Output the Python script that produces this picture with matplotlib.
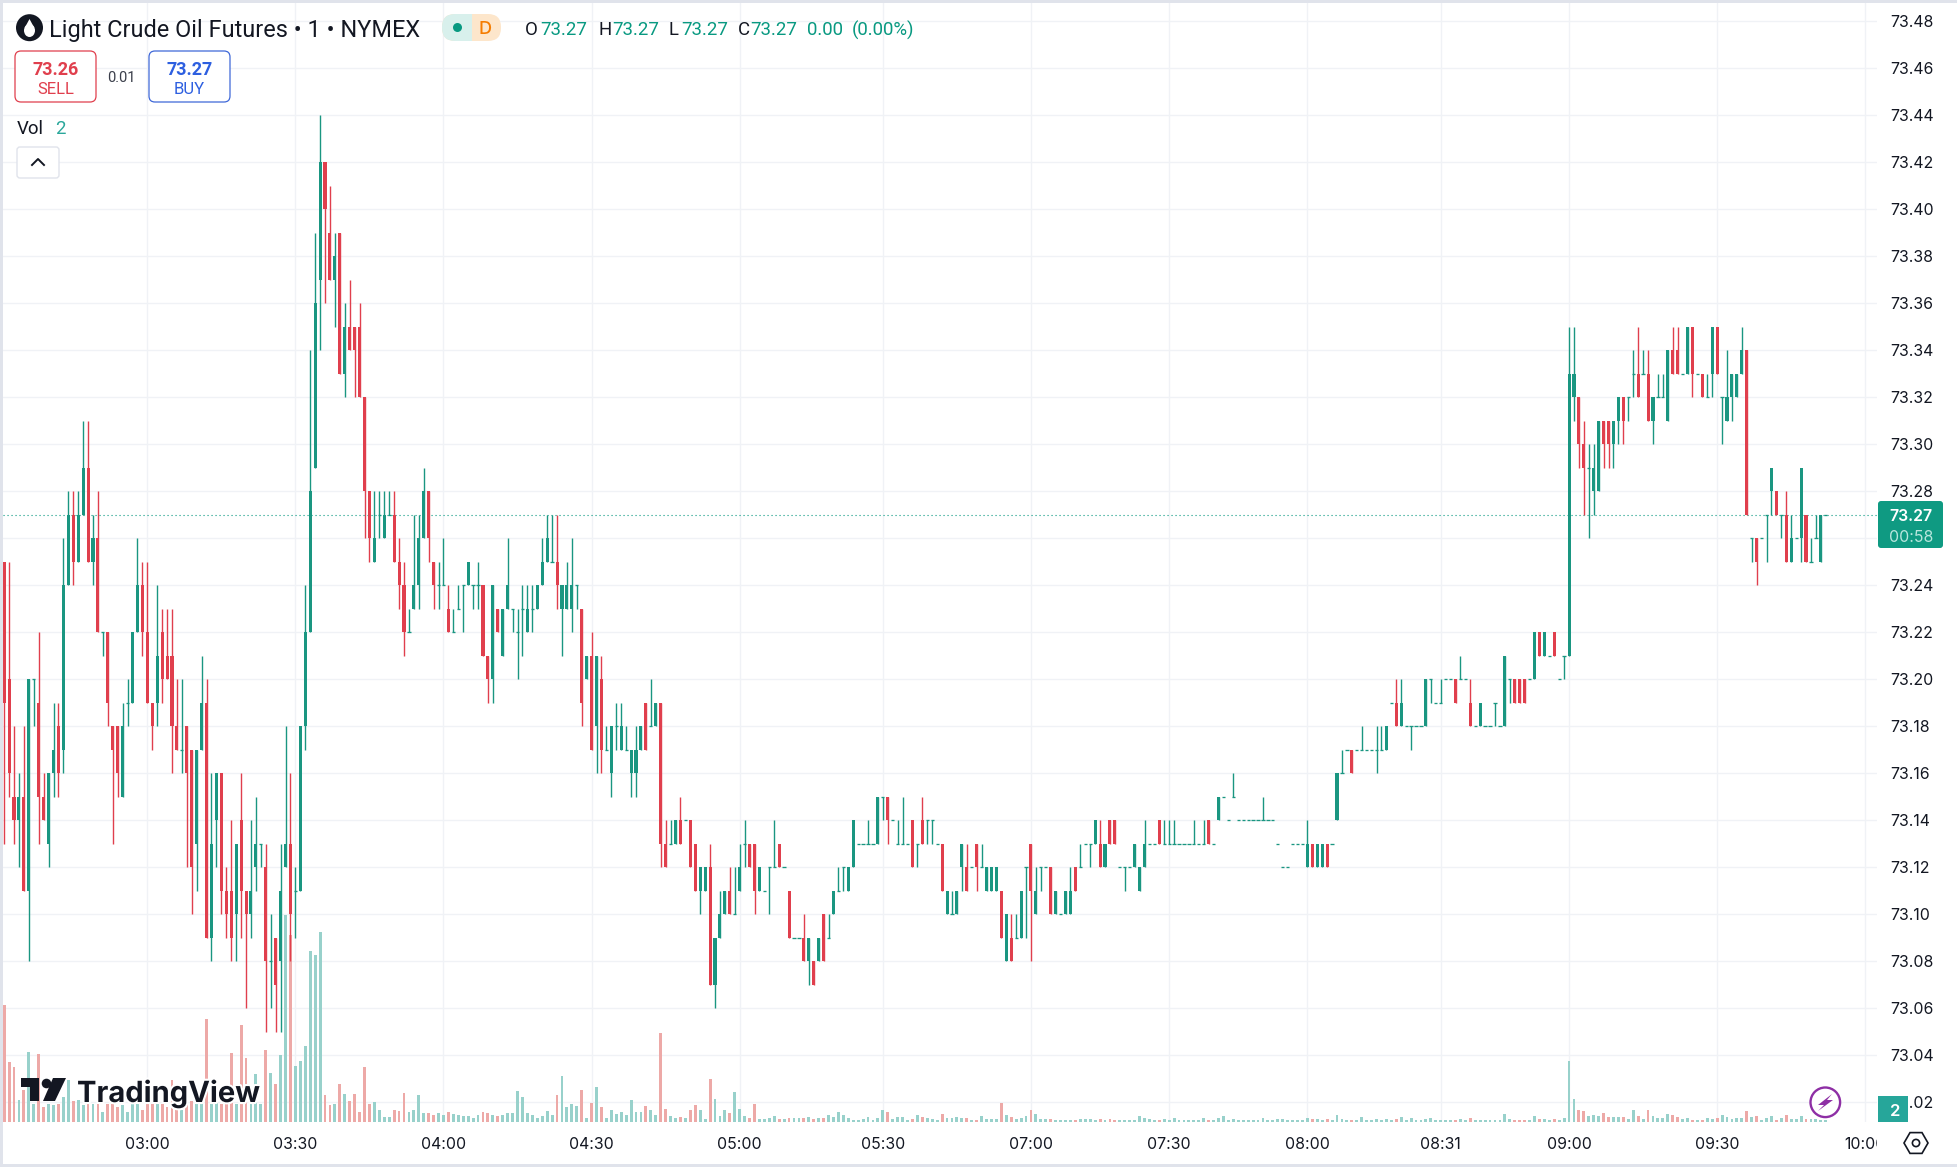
import matplotlib
matplotlib.use('Agg')
import matplotlib.pyplot as plt
import matplotlib.patheffects as pe
from matplotlib.patches import Rectangle, FancyBboxPatch, Circle, Ellipse, Polygon, RegularPolygon
from matplotlib.transforms import Bbox
import numpy as np

# prices are in cents above 73.00, first bar is bar 1
base_price = 73.0
opens = [25,20,15,14,15,11,20,19,15,13, 16,18,17,24,27,25,27,29,25,26,
         22,22,18,18,15,19,19,22,24,22, 19,19,22,21,21,18,17,18,17,13,
         17,19,9,14,16,11,11,10,14,11, 10,12,13,12,8,9,8,12,13,11,
         11,18,22,29,37,42,39,37,39,33, 35,35,35,32,28,25,27,26,27,27,
         25,24,22,23,24,26,28,25,24,24, 23,22,23,24,24,24,24,24,21,20,
         23,21,23,23,22,23,22,23,23,24, 25,25,25,23,23,23,24,23,20,21,
         18,20,17,16,18,17,17,16,16,17, 19,18,18,19,13,13,13,14,14,14,
         13,11,11,12,7,9,10,11,10,11, 13,13,13,11,11,12,12,13,12,11,
         9,9,9,8,8,8,10,9,10,11, 12,11,12,13,13,13,13,13,15,15,
         14,13,13,13,14,13,14,14,14,13, 13,10,10,10,12,12,12,13,12,11,
         11,11,11,8,9,9,9,12,13,10, 12,12,12,10,10,10,10,12,12,13,
         13,13,13,12,14,14,12,12,12,12, 11,12,13,13,14,13,13,13,13,13,
         13,13,13,13,14,13,14,15,14,15, 14,14,14,14,14,14,14,14,13,12,
         12,13,13,13,12,13,12,12,13,13, 14,16,17,17,17,17,17,17,17,17,
         17,19,19,18,18,18,18,18,18,20, 19,19,20,20,20,20,20,19,18,18,
         18,18,19,18,18,20,20,20,20,20, 20,22,21,21,22,20,21,21,32,32,
         30,29,28,28,31,31,30,31,32,32, 33,33,33,33,31,32,32,31,34,34,
         33,33,35,33,33,32,33,35,32,31, 32,32,33,34,26,26,26,27,28,28,
         27,27,25,26,26,27,25,26,25,27]
highs = [25,25,18,16,18,20,20,22,16,16, 19,19,26,28,28,28,31,31,27,28,
         22,22,18,18,19,20,22,26,25,25, 19,24,23,23,23,20,20,18,17,17,
         21,20,16,16,16,12,14,13,16,11, 14,15,13,13,10,9,13,18,16,12,
         18,24,34,39,44,42,41,39,39,36, 37,35,36,32,28,28,28,28,28,28,
         26,25,23,27,27,29,28,25,25,26, 24,23,24,24,25,24,25,24,21,24,
         23,23,26,23,23,24,24,24,24,26, 27,27,27,24,25,26,24,23,21,22,
         21,21,18,18,19,19,18,17,18,18, 19,20,19,19,14,14,14,15,14,14,
         13,12,12,13,9,11,11,12,12,13, 14,13,13,12,11,12,14,13,12,11,
         9,9,10,9,8,9,10,10,11,12, 12,12,14,13,13,14,13,15,15,15,
         14,14,15,13,14,13,15,14,14,13, 13,11,11,11,13,13,12,13,13,12,
         12,12,11,10,10,10,11,12,13,12, 12,12,12,11,10,11,12,12,13,13,
         13,14,14,13,14,14,12,12,12,13, 12,14,13,13,14,14,14,14,13,13,
         13,14,13,14,14,13,15,15,14,16, 14,14,14,14,14,15,14,14,13,12,
         12,13,13,13,14,13,13,13,13,13, 16,17,17,17,17,18,17,17,18,18,
         18,19,20,20,18,18,18,18,20,20, 19,20,20,20,20,21,20,20,18,19,
         18,18,19,18,21,20,20,20,20,20, 22,22,22,21,22,20,21,35,35,32,
         31,30,30,31,31,31,31,32,32,32, 34,35,34,34,32,33,33,34,35,35,
         33,35,35,33,33,33,35,35,32,34, 33,33,35,34,26,26,26,27,29,28,
         27,28,27,26,29,27,26,27,27,27]
lows = [13,15,13,12,11,8,18,13,14,12, 15,15,16,24,24,25,27,25,24,22,
        21,18,13,15,15,18,19,22,21,19, 17,18,19,20,16,17,16,12,10,11,
        17,9,8,12,10,9,8,8,9,6, 9,11,12,5,6,5,5,12,8,9,
        11,17,22,29,34,36,37,35,33,32, 34,32,32,26,25,25,26,26,27,25,
        23,21,22,23,23,26,25,23,23,24, 22,22,23,22,24,23,23,21,19,19,
        22,21,23,22,20,21,22,22,23,24, 25,25,23,21,23,22,23,18,20,17,
        16,16,17,15,17,17,17,15,15,17, 17,18,18,12,12,13,13,13,14,12,
        11,10,11,7,6,9,10,10,10,11, 12,12,10,11,11,10,12,12,12,9,
        9,9,8,7,7,8,8,9,10,11, 11,11,12,13,13,13,13,13,14,13,
        14,13,13,13,12,12,13,13,13,13, 11,10,10,10,11,11,12,11,12,11,
        11,11,9,8,8,9,9,9,8,10, 11,12,10,10,10,10,10,11,12,13,
        12,13,12,12,13,13,12,11,12,12, 11,12,13,13,13,13,13,13,13,13,
        13,13,13,13,13,13,14,15,14,15, 14,14,14,14,14,14,14,14,13,12,
        12,13,13,13,12,12,12,12,12,13, 14,16,17,16,17,17,17,17,16,17,
        17,19,18,18,18,17,18,18,18,19, 19,19,20,20,19,20,20,18,18,18,
        18,18,18,18,18,19,19,19,19,20, 20,21,21,21,21,20,20,21,31,29,
        27,26,27,28,29,29,29,30,30,31, 32,32,33,31,30,32,32,31,33,33,
        33,33,32,33,32,32,32,33,30,31, 31,32,33,27,25,24,26,25,27,27,
        26,25,25,26,25,25,25,26,25,27]
closes = [19,16,14,15,11,20,20,15,14,16, 17,16,24,27,25,27,29,25,26,22,
          22,19,17,16,18,19,22,24,22,19, 18,21,20,20,18,17,17,16,12,17,
          19,9,13,16,11,10,9,13,11,10, 11,13,13,8,8,7,11,13,10,11,
          18,22,28,36,42,40,37,38,33,35, 34,34,32,28,26,26,27,27,27,25,
          24,22,22,24,26,28,26,24,24,24, 22,22,23,24,25,24,24,21,20,24,
          22,23,24,23,22,23,23,23,24,25, 26,25,24,24,24,24,24,19,21,17,
          21,17,17,18,18,18,17,17,17,18, 17,18,19,13,12,13,14,13,14,12,
          11,12,12,7,9,10,11,10,10,12, 13,12,11,12,11,12,12,12,12,9,
          9,9,8,9,7,9,8,9,11,11, 12,12,14,13,13,13,13,15,15,14,
          14,13,13,13,12,13,13,14,14,13, 11,11,10,11,13,11,12,12,12,12,
          12,12,9,10,8,9,11,12,11,11, 12,12,10,11,10,11,11,11,12,13,
          13,14,12,13,13,13,12,12,12,13, 12,13,13,13,13,13,13,13,13,13,
          13,13,13,13,13,13,15,15,14,15, 14,14,14,14,14,14,14,14,13,12,
          12,13,13,13,13,12,13,13,12,13, 16,16,17,16,17,17,17,17,17,17,
          18,19,18,19,18,18,18,18,20,20, 19,19,20,20,19,20,20,18,18,19,
          18,18,19,18,21,20,19,19,19,20, 22,21,22,21,21,20,21,33,33,30,
          29,29,29,31,30,30,31,32,31,32, 33,32,33,31,32,32,32,34,33,33,
          33,35,33,33,32,32,35,33,32,32, 33,33,34,27,26,25,26,27,29,27,
          27,25,26,26,29,25,25,26,27,27]
volumes = [351,180,166,66,96,210,54,204,45,54, 51,54,75,126,63,66,51,54,54,54,
           30,54,54,45,51,30,54,54,36,54, 54,54,54,45,126,45,36,63,63,54,
           66,309,54,63,54,54,207,54,291,192, 54,144,54,216,147,114,201,622,560,168,
           183,228,513,501,570,81,51,54,114,84, 63,84,30,165,54,60,36,15,15,36,
           33,87,30,36,81,27,27,21,27,21, 30,24,21,18,18,12,21,30,27,21,
           18,21,27,27,93,75,27,21,12,18, 33,21,81,138,45,54,48,96,12,57,
           105,45,12,36,24,30,21,66,30,30, 48,36,21,267,39,18,12,15,12,36,
           51,36,9,129,69,18,36,27,90,39, 18,12,54,9,9,12,18,9,9,12,
           12,12,12,15,9,12,12,21,15,30, 21,12,6,6,9,15,6,12,36,30,
           9,15,15,6,9,21,15,12,9,6, 24,12,12,15,12,12,6,6,18,9,
           9,9,57,21,15,9,12,18,36,24, 9,9,9,6,6,6,6,6,9,9,
           9,6,9,6,9,6,6,6,6,6, 18,12,9,6,6,9,6,12,6,6,
           6,6,6,12,6,6,12,18,6,9, 6,6,6,6,6,12,6,6,9,9,
           6,6,6,6,12,9,9,6,9,6, 21,9,6,6,6,15,6,6,9,6,
           9,6,9,15,6,12,6,6,9,12, 6,6,6,6,6,9,6,12,6,6,
           6,6,6,6,24,9,6,6,6,6, 18,9,9,6,9,6,12,183,69,36,
           33,18,21,18,27,15,15,15,15,9, 36,18,9,36,18,12,12,24,21,15,
           9,12,6,6,6,12,9,12,21,15, 9,12,12,33,15,18,6,12,18,6,
           12,21,9,9,18,9,9,9,6,6]

time_ticks = [30, 60, 90, 120, 150, 179, 209, 237, 265, 292, 318, 348, 378]
time_labels = ['03:00', '03:30', '04:00', '04:30', '05:00', '05:30', '07:00',
               '07:30', '08:00', '08:31', '09:00', '09:30', '10:00']
price_ticks = [73.02 + 0.02 * k for k in range(24)]
last_price = 73.27

UP = '#1a9681'
DOWN = '#e03f4d'
UP_VOL = '#98d1cb'
DOWN_VOL = '#eda9a7'
GRID = '#f0f2f6'
TEAL = '#089981'
BORDER = '#e0e3eb'
INK = '#131722'
W, H = 1957, 1167

plt.rcParams['font.family'] = ['Inter', 'DejaVu Sans']

o = base_price + np.array(opens) / 100
h = base_price + np.array(highs) / 100
l = base_price + np.array(lows) / 100
c = base_price + np.array(closes) / 100
v = np.array(volumes, dtype=float)
idx = np.arange(1, len(o) + 1)
down = c < o
flat = c == o
colors = np.where(down, DOWN, UP)

fig = plt.figure(figsize=(W / 100, H / 100), dpi=100, facecolor='white')
# pane runs from x=3 to 1877 and y=3 to 1122 in pixels
ax = fig.add_axes([3 / W, 1 - 1122 / H, 1874 / W, 1119 / H])
ax.set_xlim(0.77, 380.38)
ax.set_ylim(73.0116, 73.4878)
for s in ax.spines.values():
    s.set_visible(False)

# volume shares the pane, 1 volume unit is a third of a pixel
ymin = ax.get_ylim()[0]
vol_scale = (ax.get_ylim()[1] - ymin) / 1119 / 3
ax.bar(idx, v * vol_scale, bottom=ymin, width=0.58,
       color=np.where(down, DOWN_VOL, UP_VOL), zorder=1)

ax.axhline(last_price, color=TEAL, lw=0.8, ls=(0, (1, 2.6)), zorder=2)
ax.vlines(idx, l, h, colors=colors, lw=1.0, zorder=3)
solid = ~flat
ax.bar(idx[solid], np.abs(c - o)[solid], bottom=np.minimum(o, c)[solid],
       width=0.62, color=colors[solid], zorder=4)
ax.hlines(c[flat], idx[flat] - 0.33, idx[flat] + 0.33, colors=UP, lw=0.95, zorder=4)

ax.set_yticks(price_ticks, [f'{p:.2f}' for p in price_ticks])
ax.set_xticks(time_ticks, time_labels)
ax.yaxis.tick_right()
ax.tick_params(axis='y', length=0, pad=9.2, labelsize=11.4, labelcolor=INK)
ax.tick_params(axis='x', length=0, pad=10.6, labelsize=11.4, labelcolor=INK)
ax.grid(True, color=GRID, lw=1)
ax.set_axisbelow(True)
end_label = ax.get_xticklabels()[-1]
end_label.set_clip_on(True)
end_label.set_clip_box(Bbox([[0, 0], [1877, H]]))

# everything else is chart chrome, placed in pixels
ui = fig.add_axes([0, 0, 1, 1], facecolor='none', zorder=5)
ui.set_xlim(0, W)
ui.set_ylim(H, 0)
ui.axis('off')

def box(x0, y0, x1, y1, ec, fc='white', r=6, lw=1.0):
    ui.add_patch(FancyBboxPatch((x0 + r, y0 + r), x1 - x0 - 2 * r, y1 - y0 - 2 * r,
                                boxstyle=f'round,pad={r},rounding_size={r}',
                                ec=ec, fc=fc, lw=lw))

def label(x, y, s, color=INK, size=11, ha='center', weight='normal', family=None):
    return ui.text(x, y, s, color=color, fontsize=size, ha=ha, va='center_baseline',
                   fontweight=weight, family=family or ['Inter', 'DejaVu Sans'])

# page frame
ui.add_patch(Rectangle((0, 0), W, 3, fc=BORDER, ec='none'))
ui.add_patch(Rectangle((0, 0), 3, H, fc=BORDER, ec='none'))
ui.add_patch(Rectangle((0, 1164), W, 3, fc=BORDER, ec='none'))

# header
ui.add_patch(Circle((29.5, 27.7), 13.5, fc=INK, ec='none'))
ui.add_patch(Ellipse((29.5, 30.5), 11, 13, fc='white', ec='none'))
ui.add_patch(Polygon([(29.5, 19), (24.6, 28), (34.4, 28)], fc='white', ec='none'))
label(49, 28, 'Light Crude Oil Futures • 1 • NYMEX', size=16.9, ha='left',
      family=['Roboto', 'DejaVu Sans'])

box(442, 14, 501, 41, 'none', fc='#fde6cb', r=13, lw=0)
clip_left = Rectangle((442, 14), 30, 27, transform=ui.transData)
left_pill = FancyBboxPatch((455, 27), 33, 1, boxstyle='round,pad=13,rounding_size=13',
                           ec='none', fc='#d8f0ec')
ui.add_patch(left_pill)
left_pill.set_clip_path(clip_left)
ui.add_patch(Circle((457.5, 27.5), 4.5, fc=TEAL, ec='none'))
label(485, 28, 'D', color='#f57c00', size=13, weight='medium')

for x, s, col in [(525, 'O', INK), (540, '73.27', TEAL), (598, 'H', INK), (612, '73.27', TEAL),
                  (669, 'L', INK), (681, '73.27', TEAL), (738, 'C', INK), (750, '73.27', TEAL),
                  (807, '0.00', TEAL), (852, '(0.00%)', TEAL)]:
    label(x, 28, s, color=col, size=13.4, ha='left', family=['Roboto', 'DejaVu Sans'])

box(15, 51, 96, 102, DOWN, lw=0.9)
label(55.5, 68, '73.26', color=DOWN, size=13, weight='semibold', family=['Roboto', 'DejaVu Sans'])
label(55.5, 88, 'SELL', color=DOWN, size=12, family=['Roboto', 'DejaVu Sans'])
label(121, 76, '0.01', size=10.5, color='#3a3e4a', family=['Roboto', 'DejaVu Sans'])
box(149, 51, 230, 102, '#3f68d8', lw=0.9)
label(189.5, 68, '73.27', color='#2d5fe0', size=13, weight='semibold', family=['Roboto', 'DejaVu Sans'])
label(189.5, 88, 'BUY', color='#2d5fe0', size=12, family=['Roboto', 'DejaVu Sans'])

label(17, 127, 'Vol', size=13.4, ha='left', family=['Roboto', 'DejaVu Sans'])
label(55, 127, '2', color='#2aa79b', size=13.4, ha='left', family=['Roboto', 'DejaVu Sans'])
box(17, 147, 59, 178, BORDER, r=3)
ui.plot([32, 38, 44], [165, 159, 165], color=INK, lw=1.4)

# price tag and volume tag on the scale
box(1878, 501, 1943, 548, 'none', fc='#0f9a82', r=3, lw=0)
label(1911, 515, '73.27', color='white', size=11.4, weight='semibold')
label(1911, 536, '00:58', color='#b8e6dd', size=11.4)
ui.add_patch(Rectangle((1878, 1096), 30, 26, fc='#26a69a', ec='none'))
label(1895, 1110, '2', color='white', size=12, weight='semibold')

# TradingView mark
mark = [[(21, 1078), (39, 1078), (39, 1101), (30, 1101), (30, 1087), (21, 1087)],
        [(53, 1078), (66, 1078), (55, 1101), (43, 1101)]]
for pts in mark:
    ui.add_patch(Polygon(pts, fc=INK, ec='none'))
ui.add_patch(Circle((46.5, 1083.5), 4.8, fc=INK, ec='none'))
label(77, 1091, 'TradingView', size=21, ha='left', weight='bold',
      ).set_path_effects([pe.withStroke(linewidth=3, foreground='white')])

# lightning and settings icons
ui.add_patch(Circle((1825.3, 1102.3), 14.8, fc='white', ec='#8e2fa5', lw=1.7))
ui.add_patch(Polygon([(1832, 1094), (1818, 1105), (1824, 1105), (1818, 1111),
                      (1833, 1100), (1827, 1100)], fc='#8e2fa5', ec='none'))
ui.add_patch(RegularPolygon((1916, 1143), 6, radius=12, orientation=np.pi / 6,
                            fc='none', ec=INK, lw=1.2))
ui.add_patch(Circle((1916, 1143), 3.6, fc='none', ec=INK, lw=1.2))

fig.savefig('out.png', dpi=100)
